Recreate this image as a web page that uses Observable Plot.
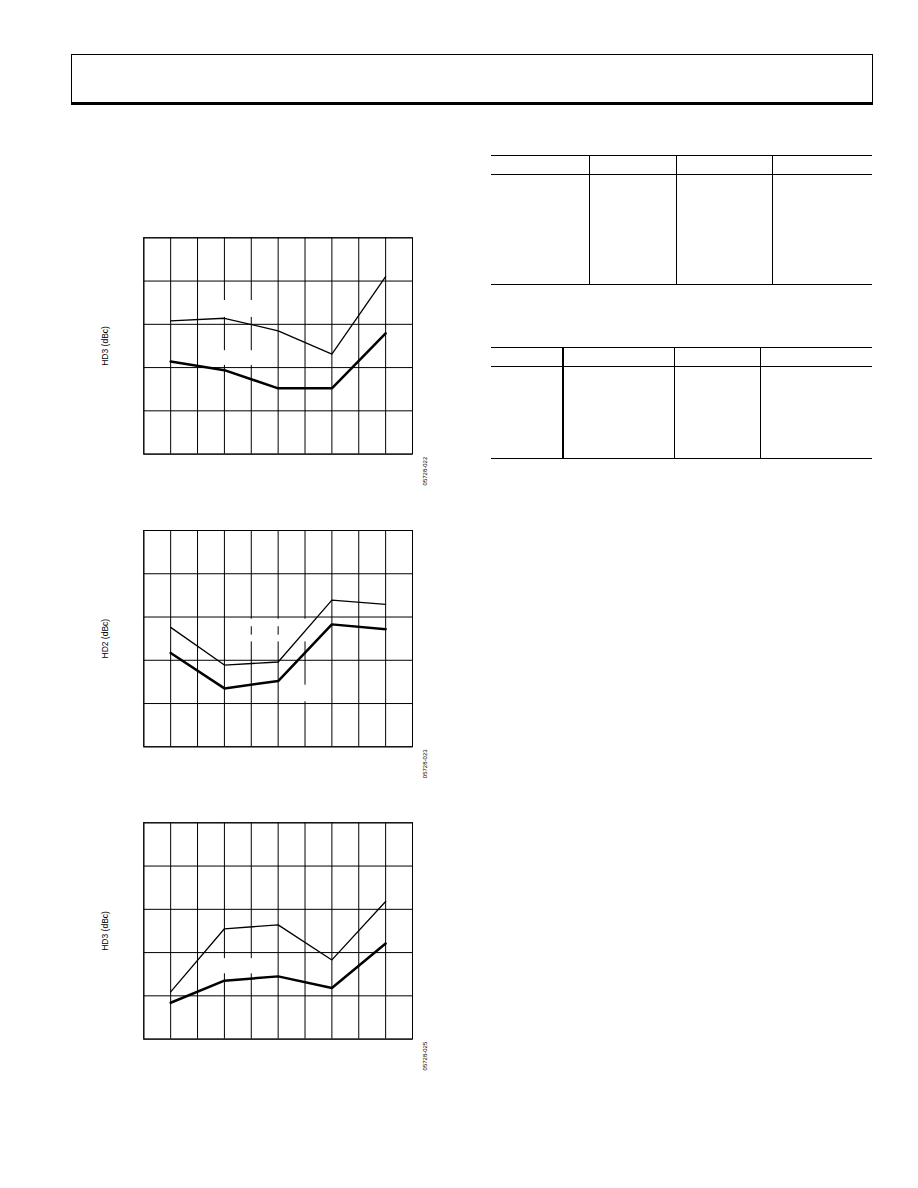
<!DOCTYPE html>
<html>
<head>
<meta charset="utf-8">
<script src="https://cdn.jsdelivr.net/npm/d3@7"></script>
<script src="https://cdn.jsdelivr.net/npm/@observablehq/plot@0.6"></script>
<style>
  html, body { margin: 0; padding: 0; background: #fff; }
  #page { position: relative; width: 918px; height: 1188px; overflow: hidden; font-family: "Liberation Sans", Arial, sans-serif; }
  .abs { position: absolute; }
  .hl { position: absolute; height: 0; border-top: 1px solid #000; }
  .vl { position: absolute; width: 0; border-left: 1px solid #000; }
</style>
</head>
<body>
<div id="page">
  <div class="abs" style="left:71px; top:54px; width:800px; height:47px; border:1px solid #000; border-bottom:3px solid #000;"></div>
</div>
<script>
// ---- data (grid units; no tick labels in the reference) ----
const xGrid = [0, 1, 2, 3, 4, 5, 6, 7, 8, 9, 10];
const yGrid = [0, 1, 2, 3, 4, 5];
const xPoints = [1, 3, 5, 7, 9];

const chart1Labels = ["HD3 (dBc)", "05728-022"];
const c1Thin  = [3.08, 3.14, 2.85, 2.31, 4.10];
const c1Thick = [2.14, 1.94, 1.52, 1.52, 2.79];

const chart2Labels = ["HD2 (dBc)", "05728-023"];
const c2Thin  = [2.76, 1.89, 1.96, 3.39, 3.29];
const c2Thick = [2.17, 1.35, 1.52, 2.83, 2.72];

const chart3Labels = ["HD3 (dBc)", "05728-025"];
const c3Thin  = [1.09, 2.55, 2.64, 1.83, 3.18];
const c3Thick = [0.84, 1.35, 1.45, 1.18, 2.21];

// white backgrounds of the (blank) legend labels that interrupt the grid
const legend1 = [{x1: 2.6, x2: 4.6, y1: 3.16, y2: 3.55}, {x1: 2.6, x2: 4.6, y1: 2.05, y2: 2.39}];
const legend2 = [{x1: 3.6, x2: 5.4, y1: 2.775, y2: 2.95}, {x1: 3.6, x2: 5.4, y1: 2.425, y2: 2.58},
                 {x1: 5.6, x2: 6.4, y1: 2.425, y2: 2.95}, {x1: 5.6, x2: 6.4, y1: 1.04, y2: 1.425}];
const legend3 = [{x1: 2.6, x2: 4.6, y1: 1.51, y2: 1.86}];

const FONT = "'Liberation Sans', Arial, sans-serif";

function makeChart(top, marginTop, labels, thin, thick, legend) {
  const thinData = xPoints.map((x, i) => ({x, y: thin[i]}));
  const thickData = xPoints.map((x, i) => ({x, y: thick[i]}));
  const height = 272;
  const plot = Plot.plot({
    width: 460,
    height,
    marginLeft: 143.3,
    marginRight: 48,
    marginTop,
    marginBottom: height - marginTop - 216.3,
    x: {domain: [0, 10], axis: null},
    y: {domain: [0, 5], axis: null},
    style: {background: "transparent", fontFamily: FONT, overflow: "visible"},
    marks: [
      Plot.ruleX(xGrid, {stroke: "#000", strokeWidth: 1}),
      Plot.rect(legend, {x1: "x1", x2: "x2", y1: "y1", y2: "y2", fill: "#fff"}),
      Plot.ruleY(yGrid, {stroke: "#000", strokeWidth: 1}),
      Plot.frame({stroke: "#000", strokeWidth: 1}),
      Plot.line(thinData, {x: "x", y: "y", stroke: "#000", strokeWidth: 1.3, strokeLinejoin: "miter"}),
      Plot.line(thickData, {x: "x", y: "y", stroke: "#000", strokeWidth: 2.5, strokeLinejoin: "miter"}),
      Plot.text([labels[0]], {text: d => d, frameAnchor: "left", textAnchor: "middle", lineAnchor: "middle", dx: -39, rotate: -90, fontSize: 8.5, fill: "#000"}),
      Plot.text([labels[1]], {text: d => d, frameAnchor: "bottom-right", textAnchor: "middle", lineAnchor: "middle", dx: 13, dy: 17, rotate: -90, fontSize: 6, fill: "#000"})
    ]
  });
  const wrap = document.createElement("div");
  wrap.className = "abs";
  wrap.style.left = "0px";
  wrap.style.top = top + "px";
  wrap.appendChild(plot);
  document.getElementById("page").appendChild(wrap);
}

makeChart(227, 10.3, chart1Labels, c1Thin, c1Thick, legend1);
makeChart(520, 10.0, chart2Labels, c2Thin, c2Thick, legend2);
makeChart(812, 10.3, chart3Labels, c3Thin, c3Thick, legend3);

// ---- empty tables on the right ----
function line(cls, left, top, len, w) {
  const d = document.createElement("div");
  d.className = cls;
  d.style.left = left + "px";
  d.style.top = top + "px";
  if (cls === "hl") d.style.width = len + "px"; else d.style.height = len + "px";
  if (w) { if (cls === "hl") d.style.borderTopWidth = w + "px"; else d.style.borderLeftWidth = w + "px"; }
  document.getElementById("page").appendChild(d);
}
// table 1
line("hl", 491, 155, 381);
line("hl", 491, 174, 381);
line("hl", 491, 284, 381);
[589, 676, 772].forEach(x => line("vl", x, 155, 129));
// table 2
line("hl", 491, 347, 381);
line("hl", 491, 366, 381);
line("hl", 491, 458, 381);
line("vl", 562, 347, 111, 2);
[674, 760].forEach(x => line("vl", x, 347, 111));
</script>
</body>
</html>
